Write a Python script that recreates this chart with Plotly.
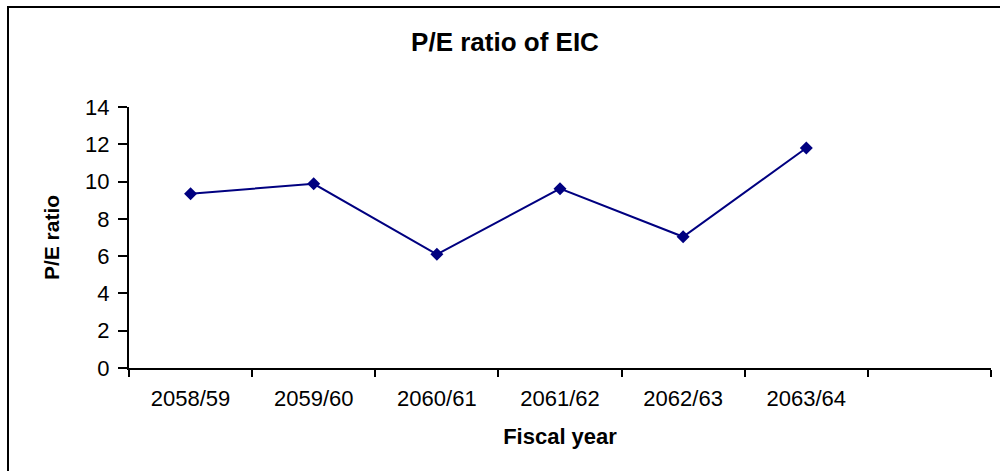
import plotly.graph_objects as go

categories = ["2058/59", "2059/60", "2060/61", "2061/62", "2062/63", "2063/64"]
axis_slots = categories + [" "]
pe_ratio = [9.35, 9.88, 6.1, 9.62, 7.04, 11.8]
y_ticks = [0, 2, 4, 6, 8, 10, 12, 14]

FONT = "Liberation Sans, Arial, sans-serif"

fig = go.Figure()
fig.add_trace(go.Scatter(
    x=categories, y=pe_ratio, mode="lines+markers",
    line=dict(color="#000080", width=2),
    marker=dict(symbol="diamond", size=10, color="#000080"),
    showlegend=False,
))

fig.update_layout(
    width=1000, height=471,
    margin=dict(l=129, r=9, t=107, b=103),
    paper_bgcolor="white", plot_bgcolor="white",
    title=dict(text="<b>P/E ratio of EIC</b>", x=0.505, xanchor="center",
               y=1 - 42 / 471, yanchor="middle",
               font=dict(family=FONT, size=26, color="black")),
    xaxis=dict(
        type="category", categoryorder="array", categoryarray=axis_slots,
        range=[-0.5, 6.5], tickson="boundaries", ticks="outside", ticklen=7,
        tickwidth=1.5, tickcolor="black", showline=True, linecolor="black",
        linewidth=2, showgrid=False, zeroline=False,
        tickfont=dict(family=FONT, size=22, color="black"),
        ticklabelstandoff=10,
        title=dict(text="<b>Fiscal year</b>", standoff=18,
                   font=dict(family=FONT, size=22, color="black")),
    ),
    yaxis=dict(
        range=[0, 14], tickvals=y_ticks, ticks="outside", ticklen=9,
        tickwidth=1.5, tickcolor="black", showline=True, linecolor="black",
        linewidth=2, showgrid=False, zeroline=False,
        tickfont=dict(family=FONT, size=22, color="black"),
        ticklabelstandoff=4,
        title=dict(text="<b>P/E ratio</b>", standoff=20,
                   font=dict(family=FONT, size=21, color="black")),
    ),
)

# outer chart frame (top and left edges visible)
fig.add_shape(type="rect", xref="paper", yref="paper",
              x0=(8 - 129) / 862, x1=(1010 - 129) / 862,
              y0=(368 - 480) / 261, y1=(368 - 7) / 261,
              line=dict(color="black", width=2), fillcolor="rgba(0,0,0,0)",
              layer="below")

fig.write_html("out.html", config={"displayModeBar": False},
               post_script="document.body.style.margin='0';document.body.style.padding='0';")
